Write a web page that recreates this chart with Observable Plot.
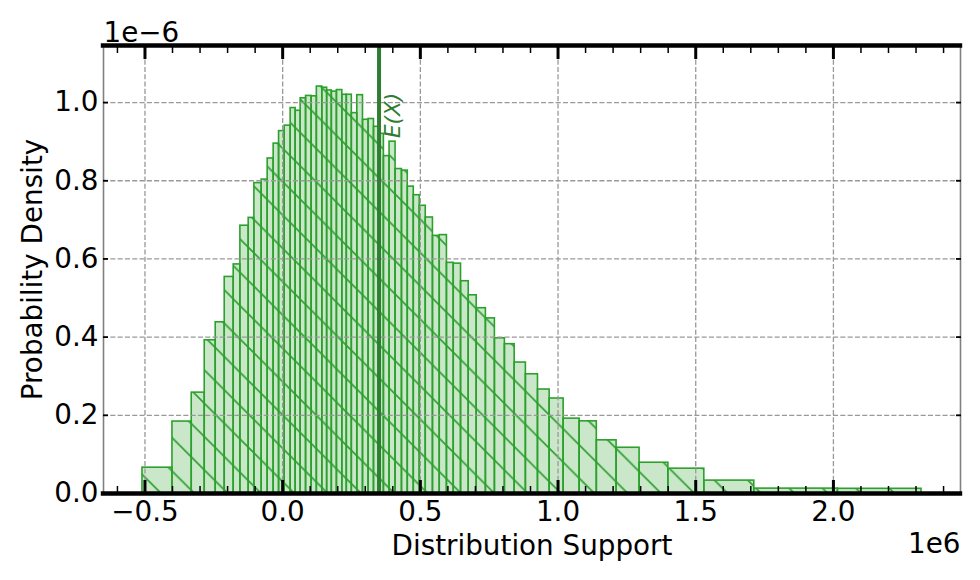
<!DOCTYPE html>
<html>
<head>
<meta charset="utf-8">
<script src="https://cdn.jsdelivr.net/npm/d3@7"></script>
<script src="https://cdn.jsdelivr.net/npm/@observablehq/plot@0.6"></script>
<style>
  html, body { margin: 0; padding: 0; background: white; }
  #chart { width: 980px; height: 580px; }
</style>
</head>
<body>
<div id="chart"></div>
<script>
// Bin edges of the histogram (in units of 1e6)
const binEdges = [-0.5091, -0.4002, -0.3302, -0.2830, -0.2431, -0.2104, -0.1778, -0.1535, -0.1234, -0.1027,
  -0.0762, -0.0544, -0.0327, -0.0131, 0.0073, 0.0290, 0.0472, 0.0653, 0.0849, 0.1052,
  0.1241, 0.1440, 0.1615, 0.1785, 0.1970, 0.2166, 0.2329, 0.2511, 0.2710, 0.2917,
  0.3120, 0.3316, 0.3516, 0.3676, 0.3882, 0.4100, 0.4332, 0.4543, 0.4761, 0.4978,
  0.5196, 0.5457, 0.5704, 0.5965, 0.6212, 0.6477, 0.6756, 0.7046, 0.7380, 0.7707,
  0.8070, 0.8425, 0.8832, 0.9271, 0.9695, 1.0203, 1.0784, 1.1408, 1.2126, 1.2961,
  1.4006, 1.5312, 1.7126, 2.0163, 2.3200];
// Probability density of each bin (in units of 1e-6)
const density = [0.066, 0.184, 0.258, 0.392, 0.438, 0.554, 0.586, 0.685, 0.705, 0.794,
  0.803, 0.857, 0.895, 0.927, 0.941, 0.986, 0.979, 1.011, 1.017, 1.016,
  1.041, 1.038, 1.031, 1.028, 1.032, 1.020, 1.020, 0.973, 1.019, 0.956,
  0.958, 0.938, 0.920, 0.863, 0.900, 0.830, 0.826, 0.785, 0.763, 0.736,
  0.706, 0.659, 0.661, 0.590, 0.588, 0.543, 0.507, 0.474, 0.448, 0.397,
  0.382, 0.335, 0.305, 0.266, 0.243, 0.1915, 0.1846, 0.136, 0.117, 0.0787,
  0.0635, 0.033, 0.0125, 0.012];
const expectedValue = 0.35;           // E(X), units of 1e6
const xTicks = [-0.5, 0.0, 0.5, 1.0, 1.5, 2.0];
const xMinorTicks = [-0.6, -0.4, -0.3, -0.2, -0.1, 0.1, 0.2, 0.3, 0.4, 0.6, 0.7, 0.8, 0.9,
  1.1, 1.2, 1.3, 1.4, 1.6, 1.7, 1.8, 1.9, 2.1, 2.2, 2.3, 2.4];
const yTicks = [0.0, 0.2, 0.4, 0.6, 0.8, 1.0];
const xDomain = [-0.6506, 2.4615];
const yDomain = [0, 1.146];
const xLabel = "Distribution Support";
const yLabel = "Probability Density";
const xOffsetText = "1e6";
const yOffsetText = "1e\u22126";
const meanLabel = "E(X)";

const bins = density.map((d, i) => ({x1: binEdges[i], x2: binEdges[i + 1], y: d}));
const fmt = d => (d < 0 ? "\u2212" : "") + Math.abs(d).toFixed(1);

const green = "#2ca02c";
const dark = "#2e7d32";
const FS = 27.8;

const chart = Plot.plot({
  width: 980,
  height: 580,
  marginLeft: 103,
  marginRight: 20,
  marginTop: 45,
  marginBottom: 87,
  x: {domain: xDomain, label: null},
  y: {domain: yDomain, label: null},
  style: {fontFamily: "DejaVu Sans", fontSize: FS + "px", background: "white", color: "black", overflow: "visible"},
  marks: [
    Plot.rectY(bins, {x1: "x1", x2: "x2", y: "y", fill: green, fillOpacity: 0.25}),
    Plot.rectY(bins, {x1: "x1", x2: "x2", y: "y", fill: "url(#hatch)"}),
    Plot.rectY(bins, {x1: "x1", x2: "x2", y: "y", fill: "none", stroke: green, strokeWidth: 1.6}),
    Plot.gridX(xTicks, {stroke: "#999", strokeOpacity: 1, strokeWidth: 1.3, strokeDasharray: "5.1,2.2"}),
    Plot.gridY(yTicks, {stroke: "#999", strokeOpacity: 1, strokeWidth: 1.3, strokeDasharray: "5.1,2.2"}),
    Plot.ruleX([expectedValue], {x: d => d, stroke: dark, strokeWidth: 4}),
    Plot.text([expectedValue], {x: d => d, text: () => meanLabel, frameAnchor: "top", dy: 92.5, dx: 20.5,
      rotate: -90, textAnchor: "start", lineAnchor: "bottom", fill: dark, fontStyle: "italic", fontSize: 21.5}),
    // side spines
    Plot.ruleX(xDomain, {x: d => d, stroke: "#808080", strokeWidth: 1.6}),
    // top & bottom spines
    Plot.ruleY(yDomain, {y: d => d, stroke: "black", strokeWidth: 4.4, strokeLinecap: "square"}),
    // x ticks (inward), bottom & top
    Plot.axisX(xTicks, {anchor: "bottom", tickSize: 13, dy: -13, strokeWidth: 3, tickFormat: () => "", label: null}),
    Plot.axisX(xMinorTicks, {anchor: "bottom", tickSize: 7, dy: -7, strokeWidth: 1.5, tickFormat: () => "", label: null}),
    Plot.axisX(xTicks, {anchor: "top", tickSize: 13, dy: 13, strokeWidth: 3, tickFormat: () => "", label: null}),
    Plot.axisX(xMinorTicks, {anchor: "top", tickSize: 7, dy: 7, strokeWidth: 1.5, tickFormat: () => "", label: null}),
    // y ticks (inward), left & right
    Plot.axisY(yTicks, {anchor: "left", tickSize: 5, dx: 5, strokeWidth: 1.8, tickFormat: () => "", label: null}),
    Plot.axisY(yTicks, {anchor: "right", tickSize: 5, dx: -5, strokeWidth: 1.8, tickFormat: () => "", label: null}),
    // tick labels
    Plot.axisX(xTicks, {anchor: "bottom", tickSize: 0, tickPadding: 7.5, tickFormat: fmt, fontSize: FS, label: null}),
    Plot.axisY(yTicks, {anchor: "left", tickSize: 0, tickPadding: 5, tickFormat: fmt, fontSize: FS, label: null}),
    // axis labels & offset texts
    Plot.text([xLabel], {text: d => d, frameAnchor: "bottom", dy: 61, lineAnchor: "bottom", fontSize: FS}),
    Plot.text([yLabel], {text: d => d, frameAnchor: "left", dx: -61.5, rotate: -90, textAnchor: "middle", lineAnchor: "bottom", fontSize: FS}),
    Plot.text([xOffsetText], {text: d => d, frameAnchor: "bottom-right", textAnchor: "end", dy: 59, lineAnchor: "bottom", fontSize: FS}),
    Plot.text([yOffsetText], {text: d => d, frameAnchor: "top-left", textAnchor: "start", dy: -3.5, lineAnchor: "bottom", fontSize: FS})
  ]
});

// hatch pattern definition ('\' hatch)
const ns = "http://www.w3.org/2000/svg";
const defs = document.createElementNS(ns, "defs");
const s = 33.33;
defs.innerHTML = `<pattern id="hatch" patternUnits="userSpaceOnUse" x="1" y="0" width="${s}" height="${s}">
  <path d="M0,0L${s},${s}M-3,${s - 3}L3,${s + 3}M${s - 3},-3L${s + 3},3" stroke="${green}" stroke-width="1.6" fill="none"/>
</pattern>`;
chart.insertBefore(defs, chart.firstChild);

document.getElementById("chart").appendChild(chart);
</script>
</body>
</html>
